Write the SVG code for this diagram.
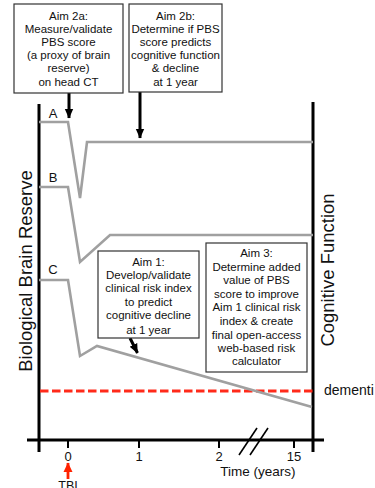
<svg xmlns="http://www.w3.org/2000/svg" width="375" height="488" viewBox="0 0 375 488">
<style>
.t{font-family:"Liberation Sans",Arial,sans-serif;fill:#111;text-anchor:middle}
.bx{font-size:11.5px}
.box{fill:#fff;stroke:#333;stroke-width:1.2}
.ax{stroke:#000;stroke-width:3;fill:none}
.cv{stroke:#a0a0a0;stroke-width:2.6;fill:none;stroke-linejoin:miter}
.ar{stroke:#000;stroke-width:3;fill:none}
</style>
<defs>
<marker id="ah" markerUnits="userSpaceOnUse" markerWidth="10" markerHeight="10" viewBox="0 0 10 10" refX="9" refY="5" orient="auto">
<path d="M0,0.8 L9.5,5 L0,9.2 Z" fill="#000"/>
</marker>
<marker id="rh" markerUnits="userSpaceOnUse" markerWidth="10" markerHeight="10" viewBox="0 0 10 10" refX="9" refY="5" orient="auto">
<path d="M0,0.5 L9.5,5 L0,9.5 Z" fill="#ff2200"/>
</marker>
</defs>
<g id="axes">
<line class="ax" x1="39" y1="104" x2="39" y2="452"/>
<line class="ax" x1="313" y1="102" x2="313" y2="452"/>
<line class="ax" x1="27" y1="440" x2="324" y2="440"/>
<line stroke="#000" stroke-width="2" x1="68" y1="440" x2="68" y2="448"/>
<line stroke="#000" stroke-width="2" x1="139" y1="440" x2="139" y2="448"/>
<line stroke="#000" stroke-width="2" x1="219" y1="440" x2="219" y2="448"/>
<line stroke="#000" stroke-width="2" x1="294" y1="440" x2="294" y2="448"/>
<line stroke="#000" stroke-width="1.6" x1="239" y1="455" x2="257" y2="428"/>
<line stroke="#000" stroke-width="1.6" x1="250" y1="455" x2="268" y2="428"/>
<text class="t" x="68" y="461" font-size="13">0</text>
<text class="t" x="139" y="461" font-size="13">1</text>
<text class="t" x="219" y="461" font-size="13">2</text>
<text class="t" x="294" y="461" font-size="13">15</text>
<text class="t" x="258" y="476" font-size="13.5">Time (years)</text>
<text class="t" transform="translate(32,271) rotate(-90)" font-size="18.5">Biological Brain Reserve</text>
<text class="t" transform="translate(334,270) rotate(-90)" font-size="18.5">Cognitive Function</text>
</g>
<g id="dementia">
<line stroke="#ff2a1a" stroke-width="2.8" stroke-dasharray="8.5 3.5" x1="40" y1="391" x2="313" y2="391"/>
<text class="t" x="324" y="395" font-size="14" style="text-anchor:start">dementi</text>
</g>
<g id="curveA">
<polyline class="cv" points="39,122 68,122 80,198 87,142 313,142"/>
<text class="t" x="53" y="118" font-size="13">A</text>
</g>
<g id="curveB">
<polyline class="cv" points="39,187 68,187 80,262 110,235 313,235"/>
<text class="t" x="53" y="182" font-size="13">B</text>
</g>
<g id="curveC">
<polyline class="cv" points="39,280 68,280 80,356 97,346 312,407"/>
<text class="t" x="53" y="274" font-size="13">C</text>
</g>
<g id="tbi">
<line stroke="#ff2200" stroke-width="2.8" x1="68" y1="479" x2="68" y2="463" marker-end="url(#rh)"/>
<text class="t" x="68" y="489.5" font-size="12.5">TBI</text>
</g>
<g id="connectors">
<line class="ar" x1="69" y1="93" x2="69" y2="118" marker-end="url(#ah)"/>
<line class="ar" x1="140" y1="92" x2="140" y2="138" marker-end="url(#ah)"/>
<line class="ar" x1="130" y1="338" x2="137.5" y2="353" marker-end="url(#ah)"/>
</g>
<g id="aim2a">
<rect class="box" x="14" y="4" width="109" height="89"/>
<text class="t bx" x="68.5" y="19.5">Aim 2a:</text>
<text class="t bx" x="68.5" y="32.7">Measure/validate</text>
<text class="t bx" x="68.5" y="45.9">PBS score</text>
<text class="t bx" x="68.5" y="59.1">(a proxy of brain</text>
<text class="t bx" x="68.5" y="72.3">reserve)</text>
<text class="t bx" x="68.5" y="85.5">on head CT</text>
</g>
<g id="aim2b">
<rect class="box" x="129" y="4" width="93" height="88"/>
<text class="t bx" x="175.5" y="19.5">Aim 2b:</text>
<text class="t bx" x="175.5" y="32.7">Determine if PBS</text>
<text class="t bx" x="175.5" y="45.9">score predicts</text>
<text class="t bx" x="175.5" y="59.1">cognitive function</text>
<text class="t bx" x="175.5" y="72.3">&amp; decline</text>
<text class="t bx" x="175.5" y="85.5">at 1 year</text>
</g>
<g id="aim1">
<rect class="box" x="98" y="251" width="101" height="87"/>
<text class="t bx" x="148.5" y="266">Aim 1:</text>
<text class="t bx" x="148.5" y="279">Develop/validate</text>
<text class="t bx" x="148.5" y="292">clinical risk index</text>
<text class="t bx" x="148.5" y="306">to predict</text>
<text class="t bx" x="148.5" y="318.5">cognitive decline</text>
<text class="t bx" x="148.5" y="334">at 1 year</text>
</g>
<g id="aim3">
<rect class="box" x="206" y="243" width="101" height="129"/>
<text class="t bx" x="256.5" y="257">Aim 3:</text>
<text class="t bx" x="256.5" y="271">Determine added</text>
<text class="t bx" x="256.5" y="284">value of PBS</text>
<text class="t bx" x="256.5" y="297.5">score to improve</text>
<text class="t bx" x="256.5" y="311">Aim 1 clinical risk</text>
<text class="t bx" x="256.5" y="325">index &amp; create</text>
<text class="t bx" x="256.5" y="339">final open-access</text>
<text class="t bx" x="256.5" y="352">web-based risk</text>
<text class="t bx" x="256.5" y="365">calculator</text>
</g>
</svg>
